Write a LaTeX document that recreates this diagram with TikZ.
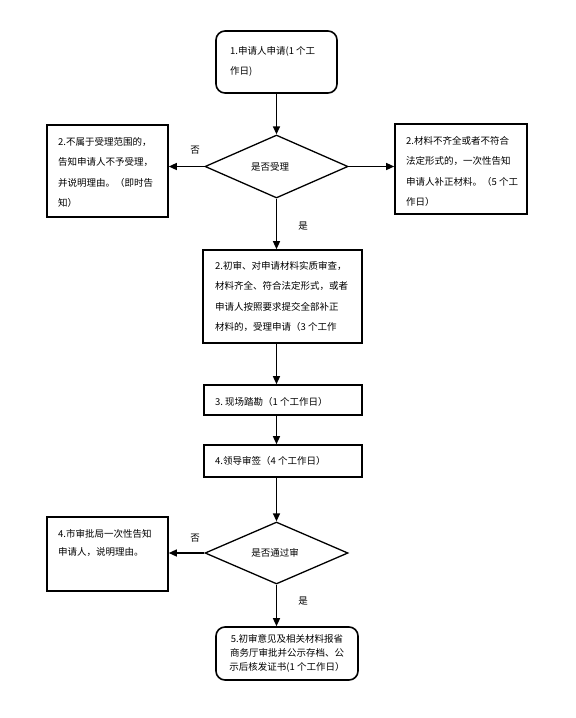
\documentclass[tikz,border=0pt]{standalone}
\usepackage{fontspec}
\newfontfamily\cjk{Noto Sans CJK SC}
\usetikzlibrary{arrows.meta,shapes.geometric}
\begin{document}
\begin{tikzpicture}[x=1pt,y=-1pt,
  box/.style={draw,line width=1.6pt,inner sep=0pt},
  rbox/.style={box,rounded corners=9pt},
  dia/.style={draw,diamond,line width=1.3pt,inner sep=0pt,font=\cjk\fontsize{9.5}{11}\selectfont},
  txt/.style={inner sep=0pt,align=left,anchor=north west,font=\cjk\fontsize{9.5}{20.5}\selectfont},
  ctxt/.style={inner sep=0pt,align=center,anchor=north,font=\cjk\fontsize{9.5}{14}\selectfont},
  lab/.style={inner sep=0pt,font=\cjk\fontsize{9.5}{11}\selectfont},
  arr/.style={line width=1.3pt,-{Triangle[length=8pt,width=7pt]}}]
\useasboundingbox[fill=white] (0,0) rectangle (576,718);

% boxes
\node[rbox,minimum width=121pt,minimum height=62pt] (b1) at (276.5,62) {};
\node[dia,minimum width=143pt,minimum height=63pt] (d1) at (276.5,166.5) {};
\node[box,minimum width=121pt,minimum height=92pt] (bl) at (107.5,171) {};
\node[box,minimum width=132pt,minimum height=90pt] (br) at (461,169) {};
\node[box,minimum width=159pt,minimum height=93pt] (b3) at (282.5,296.5) {};
\node[box,minimum width=158pt,minimum height=30pt] (b4) at (283,400) {};
\node[box,minimum width=158pt,minimum height=32pt] (b5) at (283,461) {};
\node[dia,minimum width=143pt,minimum height=62pt] (d2) at (276.5,553) {};
\node[box,minimum width=121pt,minimum height=74pt] (bl2) at (107.5,554) {};
\node[rbox,minimum width=142pt,minimum height=53pt] (b6) at (287,653.5) {};

% texts
\node[txt] (t1) at (230,46) {1.申请人申请(1 个工\\作日)};
\node[lab] (td1) at (270,166.5) {是否受理};
\node[txt] (tl) at (58,137) {2.不属于受理范围的，\\告知申请人不予受理，\\并说明理由。（即时告\\知）};
\node[txt] (tr) at (406,136) {2.材料不齐全或者不符合\\法定形式的，一次性告知\\申请人补正材料。（5 个工\\作日）};
\node[txt] (t3) at (215,261) {2.初审、对申请材料实质审查，\\材料齐全、符合法定形式，或者\\申请人按照要求提交全部补正\\材料的，受理申请（3 个工作};
\node[lab,anchor=west] (t4) at (215,402) {3.\ 现场踏勘（1 个工作日）};
\node[lab,anchor=west] (t5) at (215,461) {4.领导审签（4 个工作日）};
\node[lab] (td2) at (275,553) {是否通过审};
\node[txt,font=\cjk\fontsize{9.5}{18.5}\selectfont] (tl2) at (58,529) {4.市审批局一次性告知\\申请人，说明理由。};
\node[ctxt] (t6) at (287,634) {5.初审意见及相关材料报省\\商务厅审批并公示存档、公\\示后核发证书(1 个工作日）};

% labels
\node[lab] (no1) at (195,150) {否};
\node[lab] (yes1) at (303,226) {是};
\node[lab] (no2) at (195,538) {否};
\node[lab] (yes2) at (303,601) {是};

% connectors
\draw[arr] (b1.south -| d1.north) -- (d1.north);
\draw[arr] (d1.west) -- (bl.east |- d1.west);
\draw[arr] (d1.east) -- (br.west |- d1.east);
\draw[arr] (d1.south) -- (d1.south |- b3.north);
\draw[arr] (b3.south -| d1.south) -- (b4.north -| d1.south);
\draw[arr] (b4.south -| d1.south) -- (b5.north -| d1.south);
\draw[arr] (b5.south -| d2.north) -- (d2.north);
\draw[arr] (d2.west) -- (bl2.east |- d2.west);
\draw[arr] (d2.south) -- (d2.south |- b6.north);
\end{tikzpicture}
\end{document}
